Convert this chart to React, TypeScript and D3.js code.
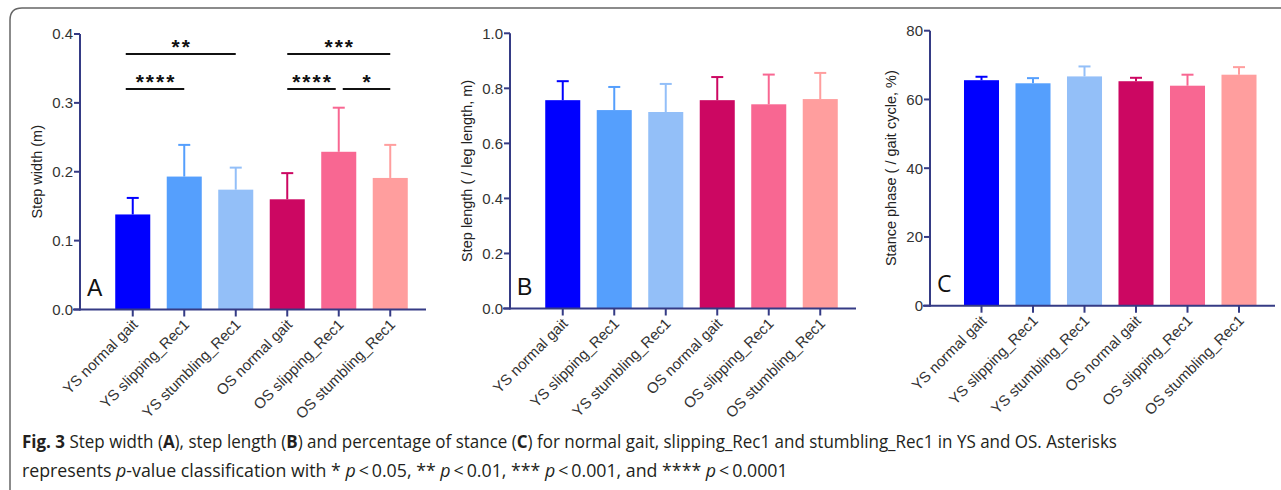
import React, { useLayoutEffect, useRef, useState } from "react";
import * as d3 from "d3";

const categories = [
  "YS normal gait",
  "YS slipping_Rec1",
  "YS stumbling_Rec1",
  "OS normal gait",
  "OS slipping_Rec1",
  "OS stumbling_Rec1",
];
const barColors = ["#0000ff", "#559ffd", "#93bff8", "#cc0762", "#f86792", "#ff9e9e"];

const stepWidthMean = [0.138, 0.193, 0.174, 0.16, 0.229, 0.191];
const stepWidthSD = [0.024, 0.046, 0.032, 0.038, 0.064, 0.048];
const stepWidthTicks = [0, 0.1, 0.2, 0.3, 0.4];

const stepLengthMean = [0.757, 0.721, 0.714, 0.757, 0.742, 0.761];
const stepLengthSD = [0.069, 0.084, 0.102, 0.084, 0.108, 0.095];
const stepLengthTicks = [0, 0.2, 0.4, 0.6, 0.8, 1.0];

const stanceMean = [65.6, 64.7, 66.7, 65.3, 64.0, 67.2];
const stanceSD = [1.0, 1.5, 2.9, 1.0, 3.2, 2.2];
const stanceTicks = [0, 20, 40, 60, 80];

// significance annotations for panel A
const sigFrom = [0, 0, 3, 3, 4];
const sigTo = [2, 1, 5, 4, 5];
const sigRow = [0, 1, 0, 1, 1];
const sigLabel = ["**", "****", "***", "****", "*"];

const AXIS = "#353b85";
const TXT = "#333333";
const FONT = "Arial, 'Liberation Sans', Helvetica, sans-serif";

type PanelProps = {
  axisX: number;
  yTop: number;
  yBottom: number;
  bandStart: number;
  xAxisEnd: number;
  yMax: number;
  ticks: number[];
  fmt: (v: number) => string;
  mean: number[];
  sd: number[];
  title: string;
  titleX: number;
  letter: string;
  letterFont: string;
  sig?: boolean;
};

function Panel(p: PanelProps) {
  const x = d3
    .scaleBand<string>()
    .domain(categories)
    .range([p.bandStart, p.bandStart + 309])
    .paddingInner(0.32)
    .paddingOuter(0.16);
  const y = d3.scaleLinear().domain([0, p.yMax]).range([p.yBottom, p.yTop]);
  const bw = x.bandwidth();
  const midY = (p.yTop + p.yBottom) / 2;
  const rowY = [54, 89];
  return (
    <g>
      {categories.map((c, i) => {
        const x0 = x(c)!;
        const cx = x0 + bw / 2;
        const top = y(p.mean[i]);
        const et = y(p.mean[i] + p.sd[i]);
        return (
          <g key={c}>
            <rect x={x0} y={top} width={bw} height={p.yBottom - top} fill={barColors[i]} />
            <line x1={cx} x2={cx} y1={top} y2={et} stroke={barColors[i]} strokeWidth={2} />
            <line x1={cx - 6} x2={cx + 6} y1={et} y2={et} stroke={barColors[i]} strokeWidth={2} />
          </g>
        );
      })}
      <line x1={p.axisX} x2={p.axisX} y1={p.yTop} y2={p.yBottom + 1} stroke={AXIS} strokeWidth={2} />
      {p.ticks.map((t) => (
        <g key={t}>
          <line x1={p.axisX - 6} x2={p.axisX} y1={y(t)} y2={y(t)} stroke={AXIS} strokeWidth={2} />
          <text
            x={p.axisX - 7}
            y={y(t)}
            dy="0.36em"
            textAnchor="end"
            fontFamily={FONT}
            fontSize={15}
            fill={TXT}
          >
            {p.fmt(t)}
          </text>
        </g>
      ))}
      <line x1={p.axisX - 7} x2={p.xAxisEnd} y1={p.yBottom} y2={p.yBottom} stroke={AXIS} strokeWidth={2} />
      {categories.map((c) => {
        const cx = x(c)! + bw / 2;
        return (
          <g key={c}>
            <line x1={cx} x2={cx} y1={p.yBottom} y2={p.yBottom + 7} stroke={AXIS} strokeWidth={2} />
            <text
              transform={`translate(${cx + 6},${p.yBottom + 16}) rotate(-45)`}
              textAnchor="end"
              fontFamily={FONT}
              fontSize={15}
              fill={TXT}
            >
              {c}
            </text>
          </g>
        );
      })}
      <text
        transform={`translate(${p.titleX},${midY}) rotate(-90)`}
        textAnchor="middle"
        fontFamily={FONT}
        fontSize={14.5}
        fill="#222"
      >
        {p.title}
      </text>
      <text x={p.axisX + 7} y={p.yBottom - 14} fontFamily={p.letterFont} fontSize={23} fill="#111">
        {p.letter}
      </text>
      {p.sig &&
        sigLabel.map((lab, k) => {
          const a = x(categories[sigFrom[k]])! + bw / 2;
          const b = x(categories[sigTo[k]])! + bw / 2;
          const x1 = sigFrom[k] === 0 ? a - 7 : sigFrom[k] === 4 ? a + 4 : a;
          const x2 = sigTo[k] === 4 ? b - 3 : b;
          const ly = rowY[sigRow[k]];
          return (
            <g key={k}>
              <line x1={x1} x2={x2} y1={ly} y2={ly} stroke="#111" strokeWidth={2} />
              <text
                x={(x1 + x2) / 2 + 1}
                y={ly - 0.5}
                textAnchor="middle"
                fontFamily={FONT}
                fontWeight="bold"
                fontSize={21}
                letterSpacing={2}
                fill="#111"
              >
                {lab}
              </text>
            </g>
          );
        })}
    </g>
  );
}

function Caption({ y, width, children }: { y: number; width: number; children: React.ReactNode }) {
  const ref = useRef<SVGTextElement>(null);
  const [sx, setSx] = useState(0.87);
  useLayoutEffect(() => {
    if (ref.current) {
      const w = ref.current.getComputedTextLength();
      if (w > 0) setSx(width / w);
    }
  }, [width]);
  return (
    <text
      ref={ref}
      transform={`translate(22,${y}) scale(${sx},1)`}
      fontFamily="'Open Sans', 'Noto Sans', sans-serif"
      fontSize={18.5}
      fill="#231f20"
    >
      {children}
    </text>
  );
}

export default function App() {
  const f1 = d3.format(".1f");
  const f0 = d3.format("d");
  const capFont = "'Open Sans', 'Noto Sans', sans-serif";
  return (
    <div style={{ position: "absolute", left: 0, top: 0 }}>
      <svg width={1281} height={490} style={{ display: "block", background: "#fff" }}>
        <path d="M10,490 L10,20 Q10,8 22,8 L1281,8" fill="none" stroke="#666" strokeWidth={1.5} />
        <Panel
          axisX={80}
          yTop={34}
          yBottom={309.5}
          bandStart={107}
          xAxisEnd={426}
          yMax={0.4}
          ticks={stepWidthTicks}
          fmt={f1}
          mean={stepWidthMean}
          sd={stepWidthSD}
          title="Step width (m)"
          titleX={42}
          letter="A"
          letterFont={FONT}
          sig
        />
        <Panel
          axisX={510}
          yTop={33.3}
          yBottom={308.5}
          bandStart={537}
          xAxisEnd={856}
          yMax={1.0}
          ticks={stepLengthTicks}
          fmt={f1}
          mean={stepLengthMean}
          sd={stepLengthSD}
          title="Step length ( / leg length, m)"
          titleX={472}
          letter="B"
          letterFont={FONT}
        />
        <Panel
          axisX={930}
          yTop={30.7}
          yBottom={305.7}
          bandStart={955.75}
          xAxisEnd={1275}
          yMax={80}
          ticks={stanceTicks}
          fmt={f0}
          mean={stanceMean}
          sd={stanceSD}
          title="Stance phase ( / gait cycle, %)"
          titleX={896}
          letter="C"
          letterFont={capFont}
        />
        <Caption y={448} width={1095}>
          <tspan fontWeight="bold">Fig. 3</tspan>
          {"  Step width ("}
          <tspan fontWeight="bold">A</tspan>
          {"), step length ("}
          <tspan fontWeight="bold">B</tspan>
          {") and percentage of stance ("}
          <tspan fontWeight="bold">C</tspan>
          {") for normal gait, slipping_Rec1 and stumbling_Rec1 in YS and OS. Asterisks"}
        </Caption>
        <Caption y={477} width={766}>
          {"represents "}
          <tspan fontStyle="italic">p</tspan>
          {"-value classification with * "}
          <tspan fontStyle="italic">p</tspan>
          {"\u2009<\u20090.05, ** "}
          <tspan fontStyle="italic">p</tspan>
          {"\u2009<\u20090.01, *** "}
          <tspan fontStyle="italic">p</tspan>
          {"\u2009<\u20090.001, and **** "}
          <tspan fontStyle="italic">p</tspan>
          {"\u2009<\u20090.0001"}
        </Caption>
      </svg>
    </div>
  );
}
